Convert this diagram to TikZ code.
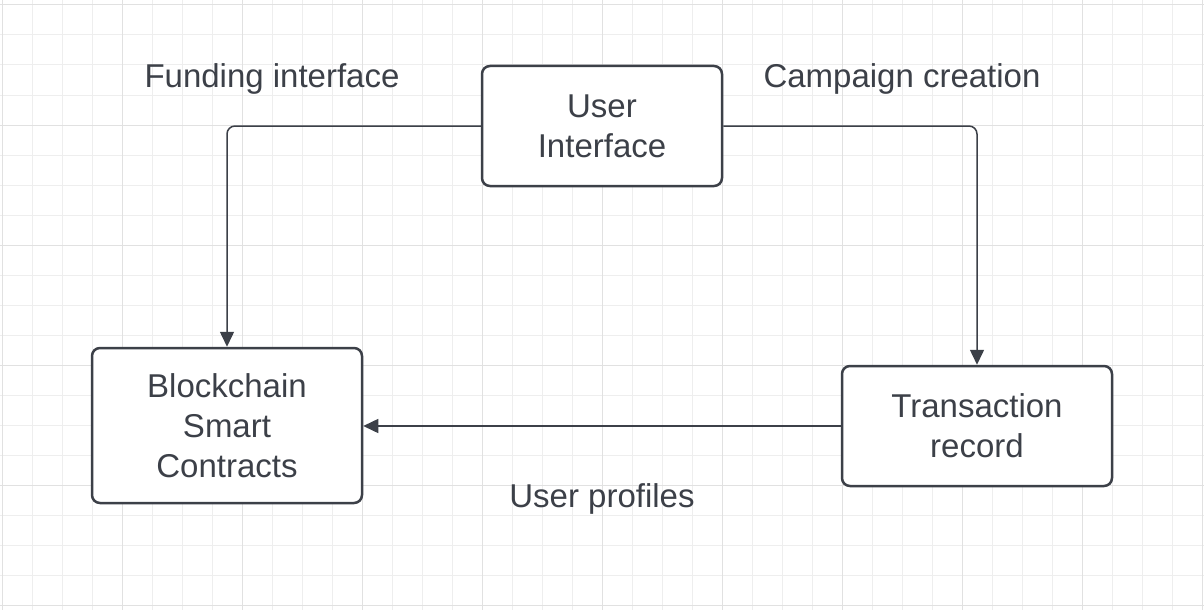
\documentclass[tikz,border=0pt]{standalone}
\usepackage{fontspec}
\setmainfont{Liberation Sans}
\usetikzlibrary{arrows.meta}
\definecolor{ink}{RGB}{60,64,72}
\definecolor{gridminor}{RGB}{238,238,238}
\definecolor{gridmajor}{RGB}{225,225,225}
\tikzset{
  box/.style={draw=ink, line width=2.5pt, rounded corners=8pt, fill=white, inner sep=0pt, align=center, text=ink, font=\fontsize{33}{40}\selectfont},
  conn/.style={draw=ink, line width=1.5pt, rounded corners=8pt, -{Triangle[length=15pt,width=14pt]}},
  lbl/.style={text=ink, font=\fontsize{33}{40}\selectfont, inner sep=0pt}
}
\begin{document}
\begin{tikzpicture}[x=1pt,y=-1pt]
\useasboundingbox (0,0) rectangle (1204,610);
\fill[white] (0,0) rectangle (1204,610);
\foreach \x in {2,32,...,1202} \draw[gridminor, line width=1pt] (\x,0) -- (\x,610);
\foreach \y in {5,35,...,605} \draw[gridminor, line width=1pt] (0,\y) -- (1204,\y);
\foreach \x in {2,122,...,1202} \draw[gridmajor, line width=1pt] (\x,0) -- (\x,610);
\foreach \y in {5,125,...,605} \draw[gridmajor, line width=1pt] (0,\y) -- (1204,\y);

\node[box, minimum width=240pt, minimum height=120pt] (ui) at (602,126) {User\\Interface};
\node[box, minimum width=270pt, minimum height=155pt] (bc) at (227,425.5) {Blockchain\\Smart\\Contracts};
\node[box, minimum width=270pt, minimum height=120pt] (tr) at (977,426) {Transaction\\record};

\draw[conn] (ui.west) -| (bc.north);
\draw[conn] (ui.east) -| (tr.north);
\draw[conn] (tr.west) -- (bc.east |- tr.west);

\node[lbl] (l1) at (272,79) {Funding interface};
\node[lbl] (l2) at (902,79) {Campaign creation};
\node[lbl] (l3) at (602,499) {User profiles};
\end{tikzpicture}
\end{document}
